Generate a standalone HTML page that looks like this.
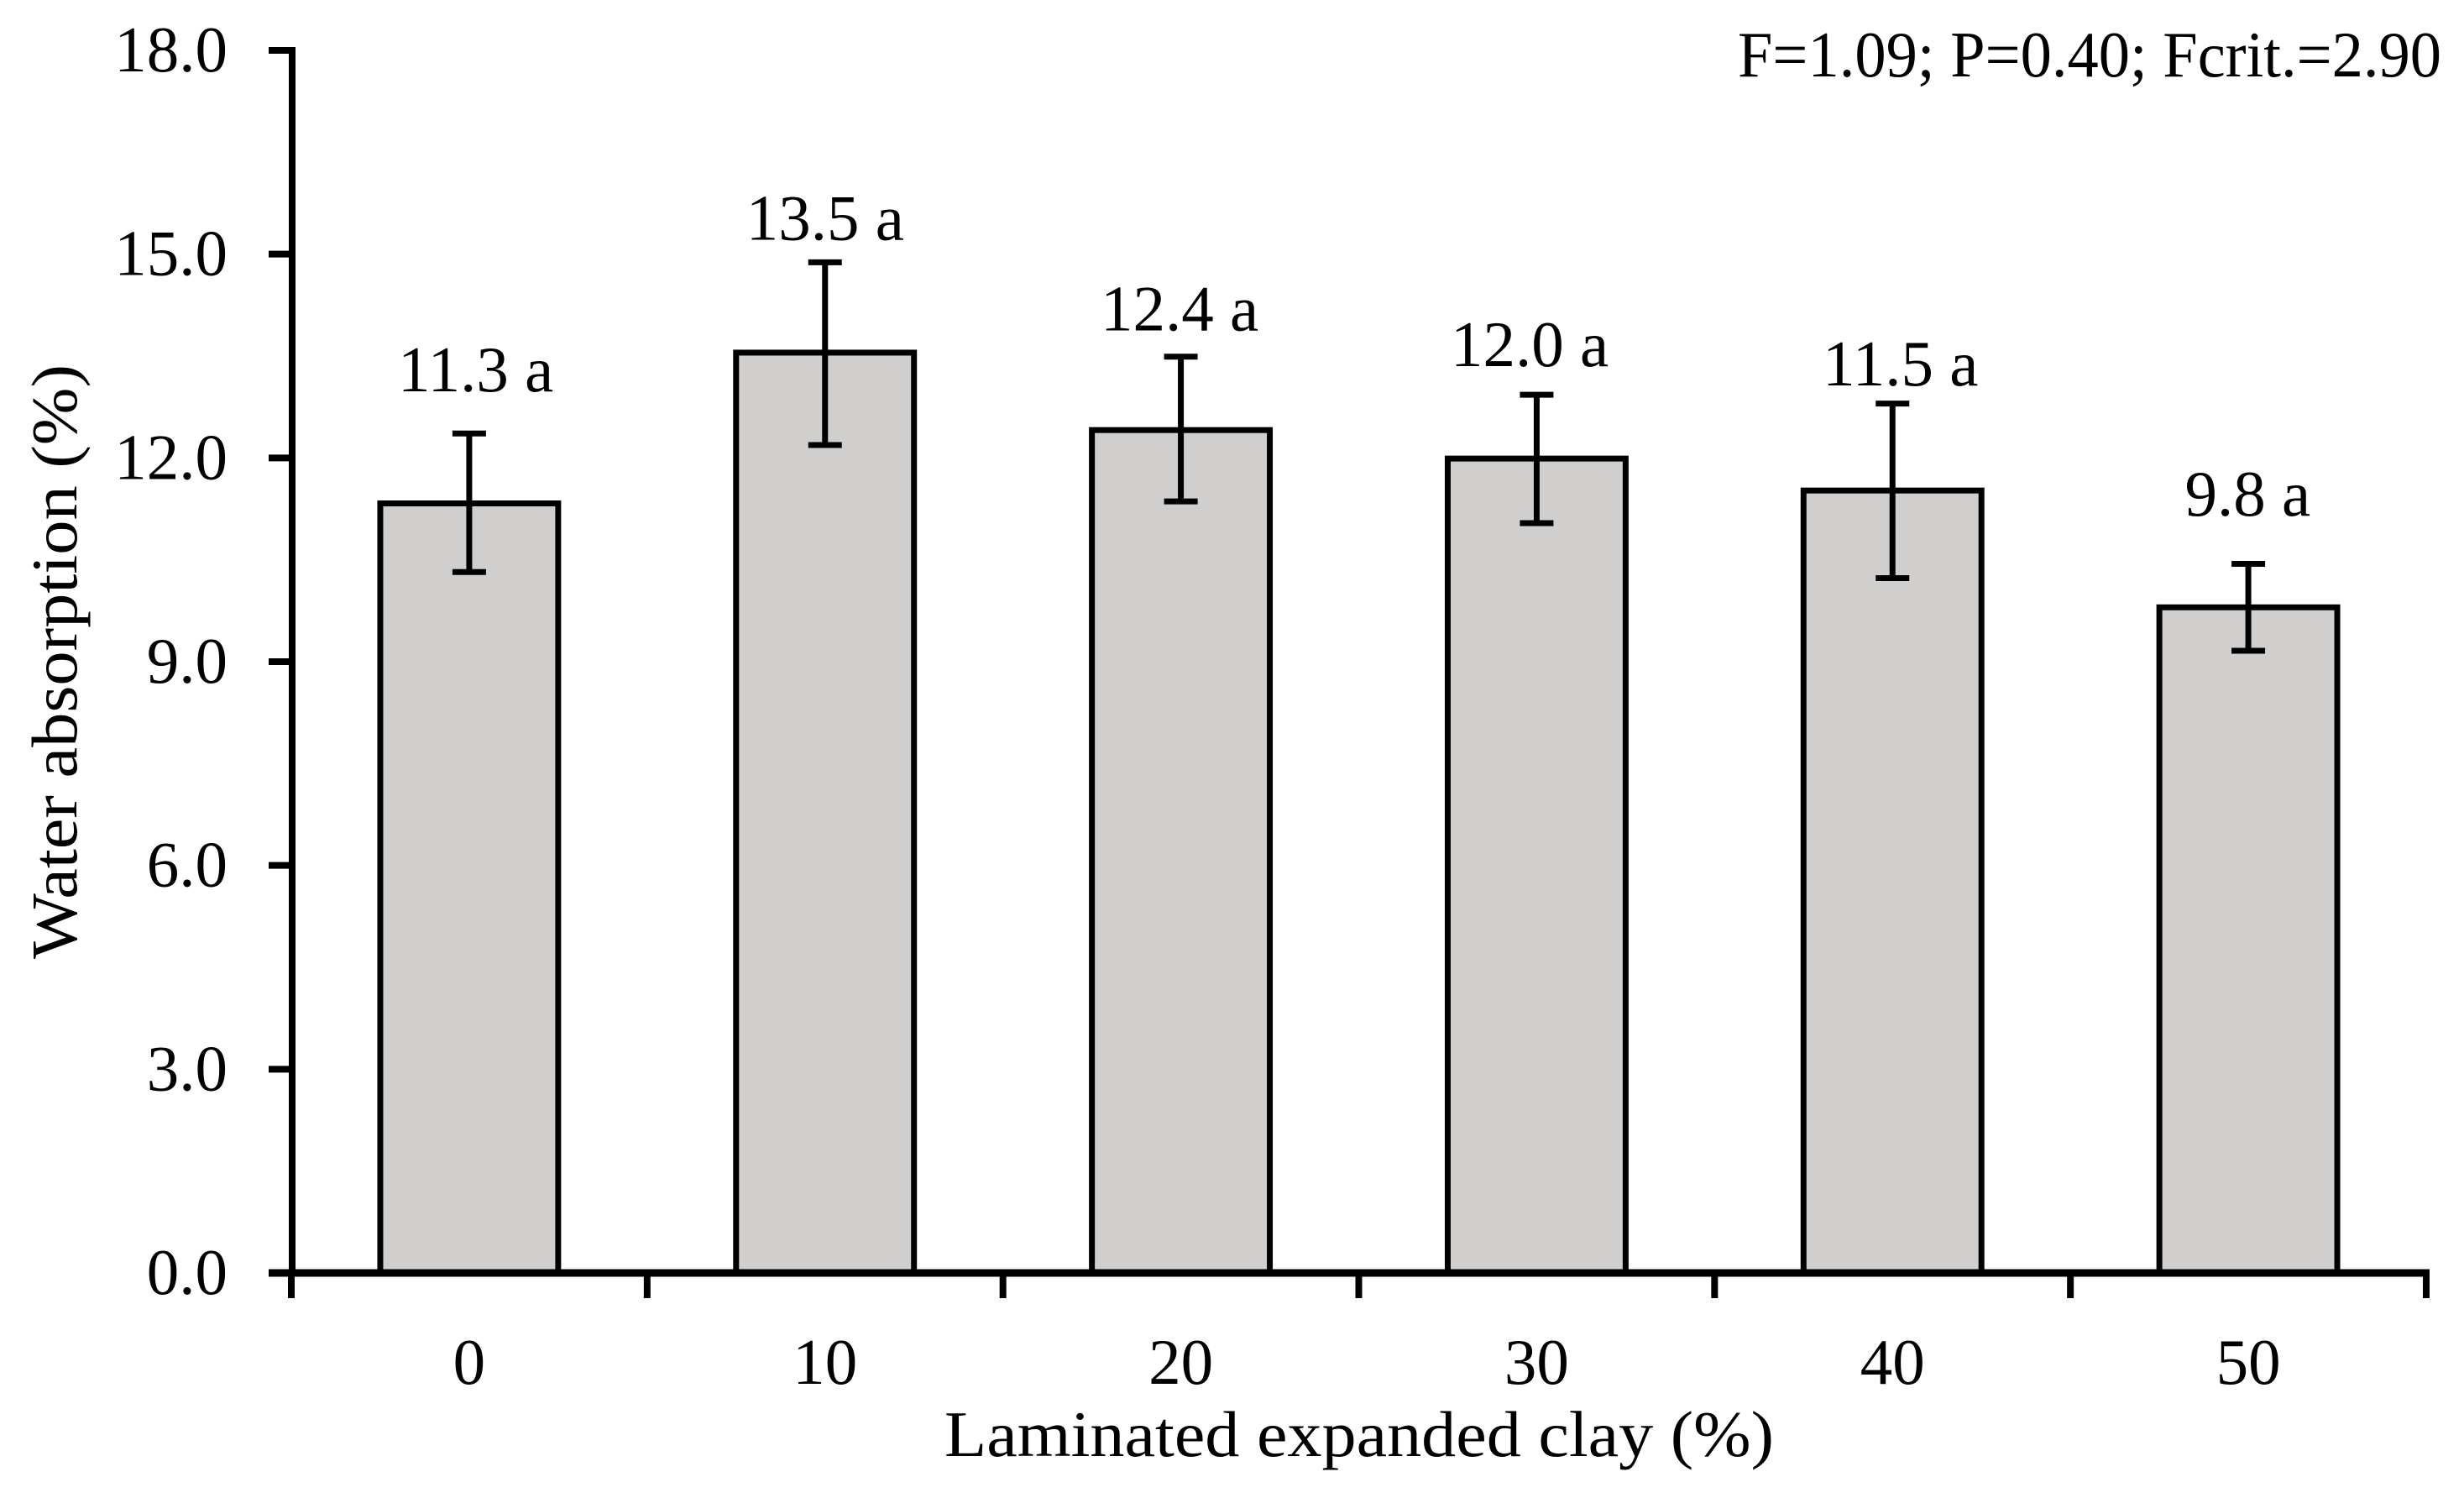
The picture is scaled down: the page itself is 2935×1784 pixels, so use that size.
<!DOCTYPE html>
<html lang="en">
<head>
<meta charset="utf-8">
<title>Water absorption vs laminated expanded clay</title>
<style>
html,body{margin:0;padding:0;background:#fff;width:2935px;height:1784px;overflow:hidden}
svg{display:block}
text{font-family:"Liberation Serif",serif;fill:#000;font-size:77px}
</style>
</head>
<body>
<svg id="chart" xmlns="http://www.w3.org/2000/svg" width="2935" height="1784" viewBox="0 0 2935 1784">
  <text x="2070" y="91" textLength="838" lengthAdjust="spacingAndGlyphs">F=1.09; P=0.40; Fcrit.=2.90</text>
  <text x="1619" y="1734" text-anchor="middle" textLength="988" lengthAdjust="spacingAndGlyphs">Laminated expanded clay (%)</text>
  <text transform="translate(91,1142) rotate(-90)" textLength="708" lengthAdjust="spacingAndGlyphs">Water absorption (%)</text>
</svg>
<script>
const categories = ['0', '10', '20', '30', '40', '50'];
const absorption = [11.33, 13.55, 12.41, 11.99, 11.52, 9.8];
const errorHigh = [12.36, 14.88, 13.49, 12.93, 12.8, 10.44];
const errorLow = [10.32, 12.19, 11.36, 11.04, 10.23, 9.16];
const printedValues = ['11.3 a', '13.5 a', '12.4 a', '12.0 a', '11.5 a', '9.8 a'];
const yTickValues = [0, 3, 6, 9, 12, 15, 18];
const yTickLabels = ['0.0', '3.0', '6.0', '9.0', '12.0', '15.0', '18.0'];
// Annotation offsets above each error bar, in axis units
const labelLift = [0.62, 0.33, 0.39, 0.42, 0.27, 0.71];
const labelShift = [0.016, -0.002, -0.006, -0.022, 0.02, -0.004];

const NS = 'http://www.w3.org/2000/svg';
const svg = document.getElementById('chart');
const plot = {left: 348, right: 2891, top: 60, bottom: 1516};
const yMax = 18;
const band = (plot.right - plot.left) / categories.length;
const yScale = v => plot.bottom - (v / yMax) * (plot.bottom - plot.top);
const xCenter = i => plot.left + band * (i + 0.5);
const barWidth = band * 0.5;

function shape(tag, attrs, parent) {
  const el = document.createElementNS(NS, tag);
  for (const k in attrs) el.setAttribute(k, attrs[k]);
  (parent || svg).appendChild(el);
  return el;
}
function line(x1, y1, x2, y2, w, parent) {
  return shape('line', {x1, y1, x2, y2, stroke: '#000', 'stroke-width': w}, parent);
}

categories.forEach((c, i) => {
  const cx = xCenter(i) - 1;
  const bar = shape('rect', {
    x: cx - barWidth / 2,
    y: yScale(absorption[i]),
    width: barWidth,
    height: plot.bottom - yScale(absorption[i]),
    fill: '#d0cfcd',
    stroke: '#000',
    'stroke-width': 7
  });
  
  

  const err = shape('g', {});
  
  
  line(cx, yScale(errorHigh[i]), cx, yScale(errorLow[i]), 7, err);
  line(cx - 20, yScale(errorHigh[i]), cx + 20, yScale(errorHigh[i]), 7, err);
  line(cx - 20, yScale(errorLow[i]), cx + 20, yScale(errorLow[i]), 7, err);

  const label = shape('text', {
    x: cx + labelShift[i] * band + 1,
    y: yScale(errorHigh[i] + labelLift[i]),
    'text-anchor': 'middle'
  });
  label.textContent = printedValues[i];
  
  

  const xLabel = shape('text', {x: cx, y: 1648, 'text-anchor': 'middle'});
  xLabel.textContent = c;
  
  
});

yTickValues.forEach((v, i) => {
  const y = yScale(v);
  const tick = line(320, y, plot.left, y, 8);
  
  
  const label = shape('text', {x: 271, y: y + 25, 'text-anchor': 'end'});
  label.textContent = yTickLabels[i];
  
  
});

for (let i = 0; i <= categories.length; i++) {
  const x = plot.left + band * i - 1;
  const tick = line(x, plot.bottom, x, plot.bottom + 30, 8);
  
  
}

const yAxis = line(plot.left, plot.top - 4, plot.left, plot.bottom, 8);


const xAxis = line(plot.left - 28, plot.bottom, plot.right + 3, plot.bottom, 9);


</script>
</body>
</html>
